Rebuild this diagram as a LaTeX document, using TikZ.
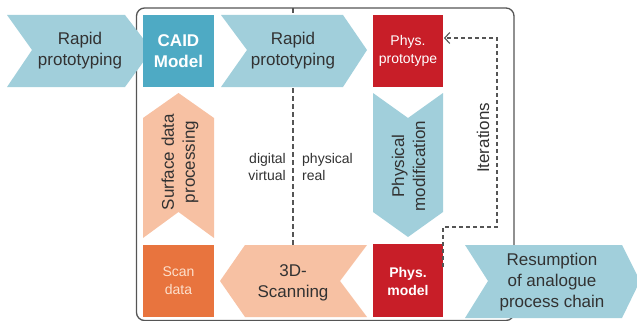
\documentclass[tikz,border=0pt]{standalone}
\usepackage{fontspec}
\setmainfont{Liberation Sans}
\usetikzlibrary{arrows.meta}
\definecolor{lblue}{RGB}{161,207,219}
\definecolor{caid}{RGB}{78,170,196}
\definecolor{pred}{RGB}{200,30,40}
\definecolor{scanor}{RGB}{232,116,62}
\definecolor{lorange}{RGB}{247,193,163}
\definecolor{txt}{RGB}{50,50,50}
\definecolor{frame}{RGB}{85,85,85}
\definecolor{peach}{RGB}{252,224,205}
\tikzset{
  bigtxt/.style={font=\fontsize{17}{21}\selectfont, text=txt, align=center, inner sep=0pt},
  smalltxt/.style={font=\fontsize{14}{17}\selectfont, text=txt, inner sep=0pt},
  boxtxt/.style={align=center, inner sep=0pt},
  frameline/.style={draw=frame, line width=1.3pt},
  iterline/.style={draw=frame, line width=1.1pt, dash pattern=on 4pt off 3pt},
  splitline/.style={draw=frame, line width=1.1pt, dash pattern=on 5pt off 3pt},
}
\begin{document}
\begin{tikzpicture}[x=1pt,y=-1pt]
\useasboundingbox (0,0) rectangle (637,321);
% frame
\draw[frameline, rounded corners=8pt] (136.5,8) rectangle (514,320.5);
% split line
\coordinate (st) at (293,8);
\coordinate (sb) at (293,321);
\draw[splitline] (st) -- (sb);
% left chevron
\fill[lblue] (7,15) -- (125,15) -- (152,50) -- (125,87) -- (7,87) -- (32,50) -- cycle;
\node[bigtxt] (rp1) at (80,51) {Rapid\\prototyping};
% CAID
\fill[caid] (143,15) rectangle (214,87);
\node[boxtxt, font=\fontsize{17}{21}\selectfont\bfseries, text=white] (caid) at (178.5,51) {CAID\\Model};
% second chevron
\fill[lblue] (221,15) -- (343,15) -- (367,50) -- (343,87) -- (221,87) -- (247,50) -- cycle;
\node[bigtxt] (rp2) at (293,51) {Rapid\\prototyping};
% phys prototype
\fill[pred] (373,15) rectangle (443,87);
\node[boxtxt, font=\fontsize{14}{18}\selectfont, text=white] (pp) at (408,51) {Phys.\\prototype};
% physical modification (down chevron)
\fill[lblue] (373,93) -- (408,118) -- (443,93) -- (443,212) -- (408,237) -- (373,212) -- cycle;
\node[bigtxt, rotate=90] (pm) at (408.5,166) {Physical\\modification};
% surface data processing (up chevron)
\fill[lorange] (143,118) -- (178.5,93) -- (214,118) -- (214,238) -- (178.5,212) -- (143,238) -- cycle;
\node[bigtxt, rotate=90] (sdp) at (180,162) {Surface data\\processing};
% digital / physical labels
\node[smalltxt, anchor=east, align=right] (dv) at (286,167) {digital\\virtual};
\node[smalltxt, anchor=west, align=left] (pr) at (302,167) {physical\\real};
% scan data
\fill[scanor] (143,245) rectangle (214,317);
\node[boxtxt, font=\fontsize{14}{18}\selectfont, text=peach] (sd) at (178.5,281) {Scan\\data};
% 3D scanning (left chevron)
\fill[lorange] (220,281) -- (245,245) -- (367,245) -- (340,281) -- (367,317) -- (245,317) -- cycle;
\node[bigtxt] (scan) at (293,283) {3D-\\Scanning};
% phys model
\fill[pred] (373,244) rectangle (443,317);
\node[boxtxt, font=\fontsize{14}{18}\selectfont\bfseries, text=white] (pmod) at (408,281) {Phys.\\model};
% resumption
\fill[lblue] (465,245) -- (622,245) -- (640,281) -- (622,318) -- (465,318) -- (488,281) -- cycle;
\node[bigtxt] (res) at (552,282) {Resumption\\of analogue\\process chain};
% iterations
\coordinate (i1) at (443,227);
\coordinate (i2) at (497,227);
\coordinate (i3) at (497,38);
\coordinate (i4) at (444,38);
\draw[iterline, -{Straight Barb[length=5pt,width=11pt,line width=1.1pt]}] (pmod.north -| i1) -- (i1) -- (i2) -- (i3) -- (i4);
\node[bigtxt, rotate=90] (it) at (483,138) {Iterations};
\end{tikzpicture}
\end{document}
